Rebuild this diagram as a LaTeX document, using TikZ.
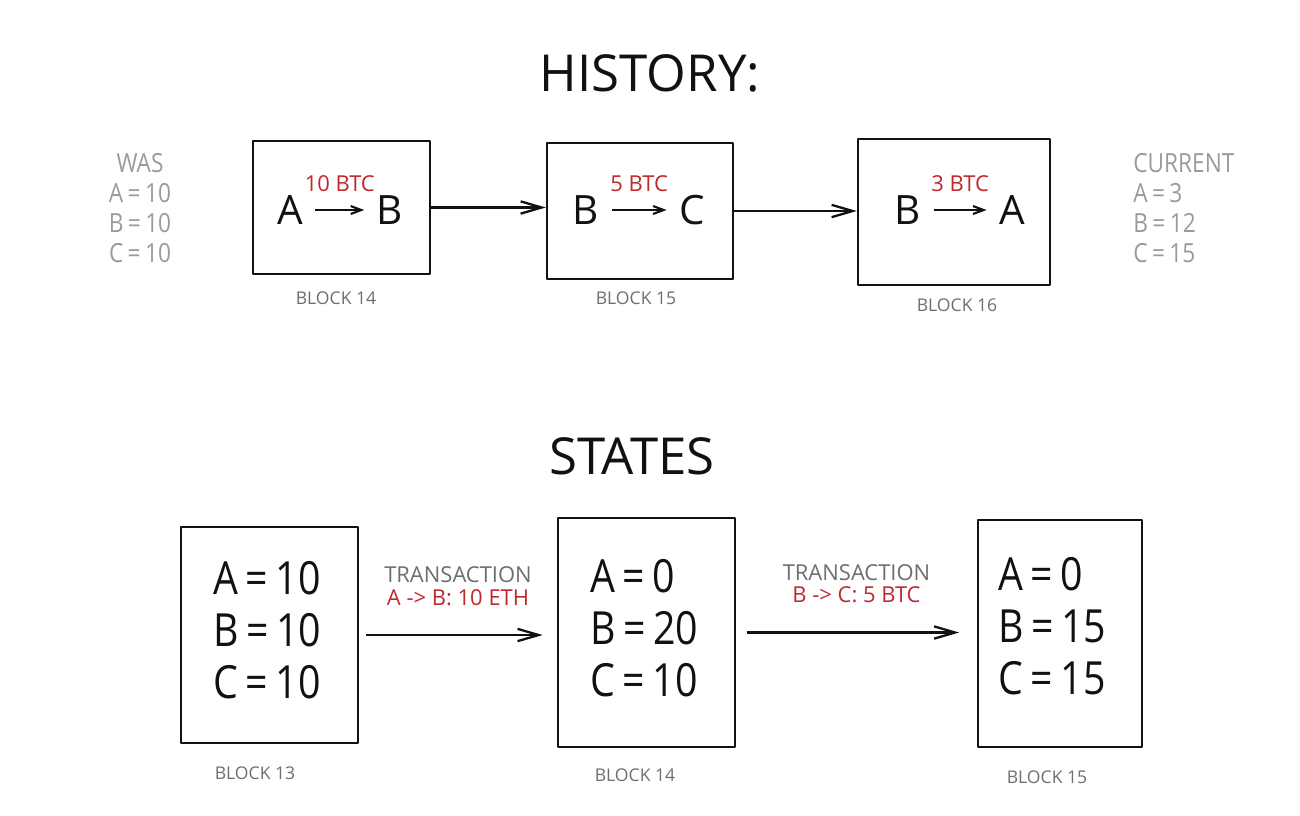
\documentclass[tikz,border=0pt]{standalone}
\usepackage{fontspec}
\setmainfont{Open Sans}
\newfontfamily\narrowfont[FakeStretch=0.86]{Open Sans}
\usetikzlibrary{arrows.meta,positioning,fit}
\definecolor{cInk}{HTML}{111111}
\definecolor{cPale}{HTML}{9a9a9a}
\definecolor{cLabel}{HTML}{6e6e6e}
\definecolor{cRed}{HTML}{c0282d}
\newcommand{\eqs}{\,=\,}
\tikzset{
  blockbox/.style={draw=cInk,line width=1.4pt,inner sep=0pt,line join=round},
  title/.style={font=\fontsize{29}{32}\selectfont,text=cInk},
  letter/.style={font=\fontsize{23}{26}\selectfont,text=cInk,inner sep=7pt},
  amount/.style={font=\fontsize{12.5}{14}\selectfont,text=cRed,inner sep=0pt},
  balances/.style={font=\narrowfont\fontsize{26}{29.5}\selectfont,text=cInk,align=left,inner sep=0pt,anchor=west},
  ledger/.style={font=\narrowfont\fontsize{15}{17}\selectfont,text=cPale,inner sep=0pt},
  blocklabel/.style={font=\fontsize{10}{12}\selectfont,text=cLabel,inner sep=0pt},
  txlabel/.style={font=\fontsize{12.5}{13}\selectfont,align=center,inner sep=0pt},
  chainarrow/.style={-{Straight Barb[length=12pt,width=7pt]},line width=1.3pt,cInk},
  payarrow/.style={-{Straight Barb[length=6pt,width=4.5pt]},line width=1.2pt,cInk},
}

\begin{document}
\begin{tikzpicture}[x=0.02cm,y=-0.02cm]
  \useasboundingbox (0,0) rectangle (1300,815);
  % history
  \node[title] (hist) at (650,73) {HISTORY:};
  \node[blockbox,fit={(253,141) (430,274)}] (h14) {};
  \node[blockbox,fit={(547,143) (733,279)}] (h15) {};
  \node[blockbox,fit={(858,139) (1050,285)}] (h16) {};
  \node[blocklabel] (lh14) at (336,298) {BLOCK 14};
  \node[blocklabel] (lh15) at (636,298) {BLOCK 15};
  \node[blocklabel] (lh16) at (957,305) {BLOCK 16};
  % transfers inside the blocks
  \node[letter] (h14a) at (290,210) {A};
  \node[letter] (h14b) at (390,210) {B};
  \draw[payarrow] (h14a) -- (h14b) node[amount,midway,above=10pt] {10 BTC};
  \node[letter] (h15a) at (586,210) {B};
  \node[letter] (h15b) at (692,210) {C};
  \draw[payarrow] (h15a) -- (h15b) node[amount,midway,above=10pt] {5 BTC};
  \node[letter] (h16a) at (908,210) {B};
  \node[letter] (h16b) at (1012,210) {A};
  \draw[payarrow] (h16a) -- (h16b) node[amount,midway,above=10pt] {3 BTC};
  \draw[chainarrow] (h14.east) -- (h14.east -| h15.west);
  \draw[chainarrow] (h15.east) -- (h15.east -| h16.west);
  % balances before and after
  \node[ledger,align=center] (was) at (140,208) {WAS\\A\eqs10\\B\eqs10\\C\eqs10};
  \node[ledger,align=left,anchor=west] (cur) at (1133,208) {CURRENT\\A\eqs3\\B\eqs12\\C\eqs15};
  % states
  \node[title] (states) at (632,456) {STATES};
  \node[blockbox,fit={(181,527) (358,743)}] (s13) {};
  \node[blockbox,fit={(558,518) (735,747)}] (s14) {};
  \node[blockbox,fit={(978,520) (1142,747)}] (s15) {};
  \node[balances] (v13) at (213,630) {A\eqs10\\B\eqs10\\C\eqs10};
  \node[balances] (v14) at (590,628) {A\eqs0\\B\eqs20\\C\eqs10};
  \node[balances] (v15) at (998,626) {A\eqs0\\B\eqs15\\C\eqs15};
  \node[blocklabel] (ls13) at (255,773) {BLOCK 13};
  \node[blocklabel] (ls14) at (635,775) {BLOCK 14};
  \node[blocklabel] (ls15) at (1047,777) {BLOCK 15};
  \draw[chainarrow,shorten <=4pt,shorten >=8pt] (s13.east) -- (s13.east -| s14.west)
    node[txlabel,midway,above=16pt] {\textcolor{cLabel}{TRANSACTION}\\\textcolor{cRed}{A -> B: 10 ETH}};
  \draw[chainarrow,shorten <=6pt,shorten >=10pt] (s14.east) -- (s14.east -| s15.west)
    node[txlabel,midway,above=16pt] {\textcolor{cLabel}{TRANSACTION}\\\textcolor{cRed}{B -> C: 5 BTC}};
\end{tikzpicture}
\end{document}
